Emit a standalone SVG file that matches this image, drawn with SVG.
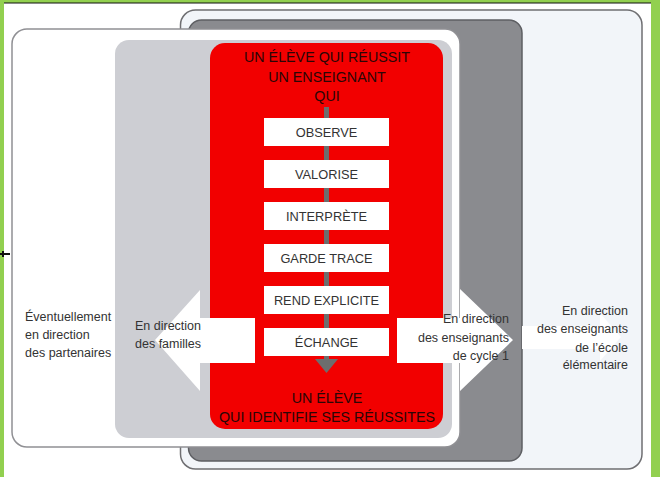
<svg xmlns="http://www.w3.org/2000/svg" width="660" height="477" viewBox="0 0 660 477">
<style>
.t{font-family:"Liberation Sans",Arial,sans-serif;fill:#333}
.title{font-family:"Liberation Sans",Arial,sans-serif;fill:#2a0606;font-size:14.3px;text-anchor:middle}
.step{fill:#fff}
.stept{font-family:"Liberation Sans",Arial,sans-serif;fill:#333;font-size:12.8px;text-anchor:middle}
.lbl{font-family:"Liberation Sans",Arial,sans-serif;fill:#333;font-size:12.5px}
</style>
<rect x="0" y="0" width="660" height="477" fill="#fff"/>
<g id="frame">
<rect x="0" y="0" width="660" height="3" fill="#92d050"/>
<rect x="0" y="0" width="4" height="477" fill="#92d050"/>
<rect x="651" y="0" width="9" height="477" fill="#92d050"/>
<line x1="4" y1="3" x2="651" y2="3" stroke="#111" stroke-width="1.2"/>
<path d="M0 254 H10 M3 251 V257" stroke="#111" stroke-width="2" fill="none"/>
</g>
<g id="ecole-elementaire">
<rect x="180.5" y="10" width="461.5" height="459" rx="15" fill="#f2f5f9" stroke="#6f6f72" stroke-width="1.5"/>
</g>
<g id="cycle1">
<rect x="188.5" y="20" width="333.5" height="441" rx="13" fill="#8a8b8f" stroke="#5e5f63" stroke-width="1.5"/>
</g>
<g id="partenaires">
<rect x="12" y="29" width="448" height="418" rx="15" fill="#fff" stroke="#909094" stroke-width="1.5"/>
</g>
<g id="familles">
<rect x="115" y="40" width="337" height="398" rx="14" fill="#cdced3"/>
</g>
<g id="eleve">
<rect x="210" y="43" width="233" height="386" rx="15" fill="#f20000"/>
<text class="title" x="327" y="62">UN ÉLÈVE QUI RÉUSSIT</text>
<text class="title" x="327" y="82">UN ENSEIGNANT</text>
<text class="title" x="327" y="101">QUI</text>
<text class="title" x="327" y="403">UN ÉLÈVE</text>
<text class="title" x="327" y="422">QUI IDENTIFIE SES RÉUSSITES</text>
</g>
<g id="connectors">
<rect x="324" y="107" width="5" height="255" fill="#6d6d6d"/>
<polygon points="315,359 338,359 326.5,373" fill="#6d6d6d"/>
<polygon points="255,318 200,318 200,290 155,340 200,391 200,363 255,363" fill="#fff"/>
<polygon points="397,318 460,318 460,289 513,340 460,391 460,363 397,363" fill="#fff"/>
<polygon points="522,326 600,326 600,313 621,337 600,361 600,349 522,349" fill="#fff"/>
</g>
<g id="observe"><rect class="step" x="264" y="118" width="125" height="28"/><text class="stept" x="326.5" y="137">OBSERVE</text></g>
<g id="valorise"><rect class="step" x="264" y="160" width="125" height="28"/><text class="stept" x="326.5" y="179">VALORISE</text></g>
<g id="interprete"><rect class="step" x="264" y="202" width="125" height="28"/><text class="stept" x="326.5" y="221">INTERPRÈTE</text></g>
<g id="garde-trace"><rect class="step" x="264" y="244" width="125" height="28"/><text class="stept" x="326.5" y="263">GARDE TRACE</text></g>
<g id="rend-explicite"><rect class="step" x="264" y="286" width="125" height="28"/><text class="stept" x="326.5" y="305">REND EXPLICITE</text></g>
<g id="echange"><rect class="step" x="264" y="328" width="125" height="28"/><text class="stept" x="326.5" y="347">ÉCHANGE</text></g>
<g id="labels">
<text class="lbl" x="25" y="321">Éventuellement</text>
<text class="lbl" x="25" y="339">en direction</text>
<text class="lbl" x="25" y="357">des partenaires</text>
<text class="lbl" x="135" y="330">En direction</text>
<text class="lbl" x="135" y="348">des familles</text>
<text class="lbl" x="509" y="323" text-anchor="end">En direction</text>
<text class="lbl" x="509" y="342" text-anchor="end">des enseignants</text>
<text class="lbl" x="509" y="360" text-anchor="end">de cycle 1</text>
<text class="lbl" x="628" y="315" text-anchor="end">En direction</text>
<text class="lbl" x="628" y="333" text-anchor="end">des enseignants</text>
<text class="lbl" x="628" y="352" text-anchor="end">de  l’école</text>
<text class="lbl" x="628" y="369" text-anchor="end">élémentaire</text>
</g>
</svg>
